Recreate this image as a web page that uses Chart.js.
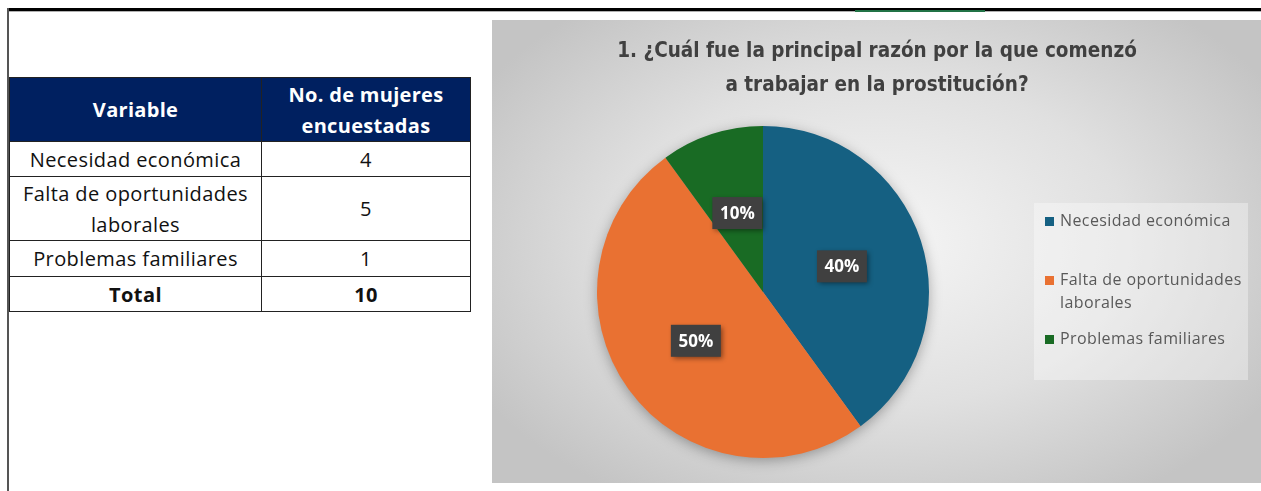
<!DOCTYPE html>
<html>
<head>
<meta charset="utf-8">
<script src="https://cdn.jsdelivr.net/npm/chart.js@4.4.1/dist/chart.umd.min.js"></script>
<style>
  html, body { margin: 0; padding: 0; background: #fff; }
  body { width: 1261px; height: 491px; position: relative; overflow: hidden; }
  .topbar { position: absolute; left: 7px; right: 0; top: 8px; height: 3px; background: #000; }
  .topbar2 { position: absolute; left: 7px; right: 0; top: 11px; height: 1px; background: #b0b0b0; }
  .sel { position: absolute; left: 855px; width: 130px; top: 10px; height: 2px; background: #217346; }
  .leftbar { position: absolute; left: 7px; top: 8px; bottom: 0; width: 2px; background: #555; }
  table { position: absolute; left: 9px; top: 77px; border-collapse: collapse; width: 462px;
          font-family: "Open Sans", sans-serif; font-size: 20px; letter-spacing: 0.4px; color: #111; }
  td, th { border: 1.5px solid #222; text-align: center; padding: 0; }
  th { background: #002060; color: #fff; font-weight: bold; font-size: 20px; letter-spacing: 0.3px; line-height: 31px; }
  td { line-height: 31px; }
  .wrap { position: absolute; left: 492px; top: 20px; width: 769px; height: 463px;
          background: radial-gradient(ellipse 60% 65% at 50% 48%, #f6f6f6 0%, #e0e0e0 55%, #c4c4c4 100%); }
</style>
</head>
<body>
<div class="topbar"></div>
<div class="topbar2"></div>
<div class="sel"></div>
<div class="leftbar"></div>
<table id="tbl"></table>
<div class="wrap"><canvas id="pie" width="769" height="463"></canvas></div>
<script>
// data
const categories = ['Necesidad económica', 'Falta de oportunidades laborales', 'Problemas familiares'];
const tableLabels = ['Necesidad económica', 'Falta de oportunidades<br>laborales', 'Problemas familiares'];
const counts = [4, 5, 1];
const colors = ['#156082', '#E97132', '#196B24'];
const titleLines = ['1. ¿Cuál fue la principal razón por la que comenzó', 'a trabajar en la prostitución?'];

// --- table ---
const tbl = document.getElementById('tbl');
const rowHeights = [35, 64, 36];
let html = '<tr style="height:64px"><th style="width:251px">Variable</th><th>No. de mujeres<br>encuestadas</th></tr>';
categories.forEach((c, i) => {
  html += `<tr style="height:${rowHeights[i]}px"><td>${tableLabels[i]}</td><td>${counts[i]}</td></tr>`;
});
const total = counts.reduce((a, b) => a + b, 0);
html += `<tr style="height:35px"><td><b>Total</b></td><td><b>${total}</b></td></tr>`;
tbl.innerHTML = html;

// --- chart plugins ---
const titleFont = 'bold 20.5px "Liberation Sans Narrow", "DejaVu Sans Condensed", sans-serif';

const decorPlugin = {
  id: 'decor',
  beforeDatasetsDraw(chart) {
    // pie shadow
    const ctx = chart.ctx;
    const arc = chart.getDatasetMeta(0).data[0];
    ctx.save();
    ctx.shadowColor = 'rgba(0,0,0,0.35)';
    ctx.shadowBlur = 14;
    ctx.shadowOffsetY = 3;
    ctx.fillStyle = '#999';
    ctx.beginPath();
    ctx.arc(arc.x, arc.y, arc.outerRadius - 1, 0, Math.PI * 2);
    ctx.fill();
    ctx.restore();
  },
  afterDraw(chart) {
    const ctx = chart.ctx;
    // title
    ctx.save();
    ctx.fillStyle = '#404040';
    ctx.font = titleFont;
    ctx.textAlign = 'center';
    ctx.textBaseline = 'middle';
    titleLines.forEach((t, i) => ctx.fillText(t, 385, 32 + i * 34));
    ctx.restore();

    // data labels
    const meta = chart.getDatasetMeta(0);
    const sum = counts.reduce((a, b) => a + b, 0);
    meta.data.forEach((arc, i) => {
      const p = arc.tooltipPosition();
      const txt = Math.round(counts[i] / sum * 100) + '%';
      ctx.save();
      ctx.shadowColor = 'rgba(0,0,0,0.45)';
      ctx.shadowBlur = 5;
      ctx.shadowOffsetX = 2;
      ctx.shadowOffsetY = 2;
      ctx.fillStyle = '#404040';
      ctx.fillRect(p.x - 25, p.y - 16, 50, 32);
      ctx.restore();
      ctx.save();
      ctx.fillStyle = '#fff';
      ctx.font = 'bold 17px "Open Sans", sans-serif';
      ctx.textAlign = 'center';
      ctx.textBaseline = 'middle';
      ctx.fillText(txt, p.x, p.y + 1);
      ctx.restore();
    });

    // legend
    ctx.save();
    ctx.fillStyle = 'rgba(255,255,255,0.35)';
    ctx.fillRect(542, 183, 214, 177);
    ctx.font = '16px "Open Sans", sans-serif';
    ctx.letterSpacing = '0.4px';
    ctx.textBaseline = 'middle';
    const itemY = [201, 260, 319];
    categories.forEach((c, i) => {
      ctx.fillStyle = colors[i];
      ctx.fillRect(553, itemY[i] - 4, 9, 9);
      ctx.fillStyle = '#595959';
      // wrap text to the box width
      const words = c.split(' ');
      let lines = [], line = '';
      words.forEach(wd => {
        const test = line ? line + ' ' + wd : wd;
        if (ctx.measureText(test).width > 185 && line) { lines.push(line); line = wd; }
        else line = test;
      });
      lines.push(line);
      lines.forEach((l, k) => ctx.fillText(l, 568, itemY[i] + k * 23));
    });
    ctx.restore();
  }
};

new Chart(document.getElementById('pie'), {
  type: 'pie',
  data: {
    labels: categories,
    datasets: [{
      data: counts,
      backgroundColor: colors,
      borderWidth: 0
    }]
  },
  options: {
    responsive: false,
    animation: false,
    rotation: 0,
    layout: { padding: { left: 105, top: 106, right: 332, bottom: 25 } },
    plugins: {
      legend: { display: false },
      title: { display: false },
      tooltip: { enabled: false }
    }
  },
  plugins: [decorPlugin]
});
</script>
</body>
</html>
